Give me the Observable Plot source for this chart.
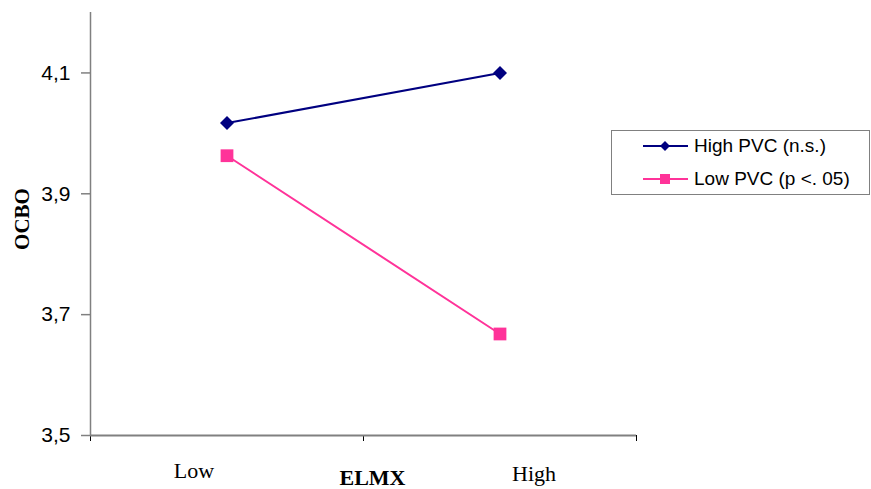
<!DOCTYPE html>
<html><head><meta charset="utf-8">
<script src="https://cdn.jsdelivr.net/npm/d3@7"></script>
<script src="https://cdn.jsdelivr.net/npm/@observablehq/plot@0.6"></script>
<style>
body{margin:0;background:#fff;}
#wrap{position:relative;width:871px;height:489px;overflow:hidden;}
.legend{position:absolute;left:611px;top:130px;width:259px;height:65px;border:1.5px solid #808080;box-sizing:border-box;font-family:"Liberation Sans",Arial,sans-serif;font-size:19px;color:#000;background:#fff;}
.row{position:absolute;left:0;height:24px;display:flex;align-items:center;}
.row svg{margin-left:31px;margin-right:6px;}
</style></head><body><div id="wrap"></div>
<script>
const categories = ["Low", "High"];
const seriesNames = ["High PVC (n.s.)", "Low PVC (p <. 05)"];
const highPVC = [4.017, 4.10];
const lowPVC = [3.963, 3.668];
const yTicks = [3.5, 3.7, 3.9, 4.1];
const colors = ["#000080", "#ff3399"];

const rows = [];
categories.forEach((c, i) => {
  rows.push({series: seriesNames[0], elmx: c, ocbo: highPVC[i]});
  rows.push({series: seriesNames[1], elmx: c, ocbo: lowPVC[i]});
});
const X = d => categories.indexOf(d.elmx) + 0.5;
const s0 = rows.filter(d => d.series === seriesNames[0]);
const s1 = rows.filter(d => d.series === seriesNames[1]);
const axisGrey = "#808080";
const sans = "Liberation Sans, Arial, sans-serif";
const serif = "Liberation Serif, Times New Roman, serif";

const chart = Plot.plot({
  width: 871,
  height: 489,
  marginLeft: 90,
  marginRight: 235,
  marginTop: 12,
  marginBottom: 54,
  style: {background: "#fff", overflow: "visible"},
  x: {type: "linear", domain: [0, 2]},
  y: {domain: [3.5, 4.2]},
  marks: [
    Plot.axisY({ticks: yTicks, tickFormat: d => d.toFixed(1).replace(".", ","), tickSize: 9, tickPadding: 11,
      stroke: axisGrey, strokeWidth: 1.5, fill: "#000", fontSize: 21, fontFamily: sans, label: null}),
    Plot.axisX({ticks: [0, 1, 2], tickFormat: () => "", tickSize: 6, stroke: "#000", strokeWidth: 1, label: null}),
    Plot.ruleX([0], {y1: 3.5, y2: 4.2, stroke: axisGrey, strokeWidth: 1.5}),
    Plot.ruleY([3.5], {stroke: axisGrey, strokeWidth: 2}),
    Plot.line(s0, {x: X, y: "ocbo", stroke: colors[0], strokeWidth: 2}),
    Plot.line(s1, {x: X, y: "ocbo", stroke: colors[1], strokeWidth: 2}),
    Plot.dot(s0, {x: X, y: "ocbo", symbol: "diamond2", r: 6.3, fill: colors[0], stroke: null}),
    Plot.dot(s1, {x: X, y: "ocbo", symbol: "square", r: 7.2, fill: colors[1], stroke: null}),
    Plot.text([categories[0]], {x: (d) => categories.indexOf(d) + 0.5, frameAnchor: "bottom", lineAnchor: "top", dy: 27, dx: -33,
      fontSize: 22, fontFamily: serif, fill: "#000"}),
    Plot.text([categories[1]], {x: (d) => categories.indexOf(d) + 0.5, frameAnchor: "bottom", lineAnchor: "top", dy: 30, dx: 34,
      fontSize: 22, fontFamily: serif, fill: "#000"}),
    Plot.text(["ELMX"], {frameAnchor: "bottom", lineAnchor: "top", dy: 34, dx: 9,
      fontSize: 22, fontWeight: "bold", fontFamily: serif, fill: "#000"}),
    Plot.text(["OCBO"], {frameAnchor: "left", rotate: -90, dx: -68, dy: -5, textAnchor: "middle",
      fontSize: 21, fontWeight: "bold", fontFamily: serif, fill: "#000"})
  ]
});

const wrap = document.getElementById("wrap");
wrap.appendChild(chart);

const legend = document.createElement("div");
legend.className = "legend";
const sym = [
  '<polygon points="22,1 27,6 22,11 17,6" fill="' + colors[0] + '"/>',
  '<rect x="17" y="1" width="10" height="10" fill="' + colors[1] + '"/>'
];
seriesNames.forEach((name, i) => {
  const row = document.createElement("div");
  row.className = "row";
  row.style.top = (i === 0 ? 3 : 36) + "px";
  row.innerHTML = '<svg width="45" height="12"><line x1="0" x2="45" y1="6" y2="6" stroke="' + colors[i] + '" stroke-width="2"/>' + sym[i] + '</svg><span>' + name.replace("<", "&lt;") + '</span>';
  legend.appendChild(row);
});
wrap.appendChild(legend);
</script>
</body></html>
